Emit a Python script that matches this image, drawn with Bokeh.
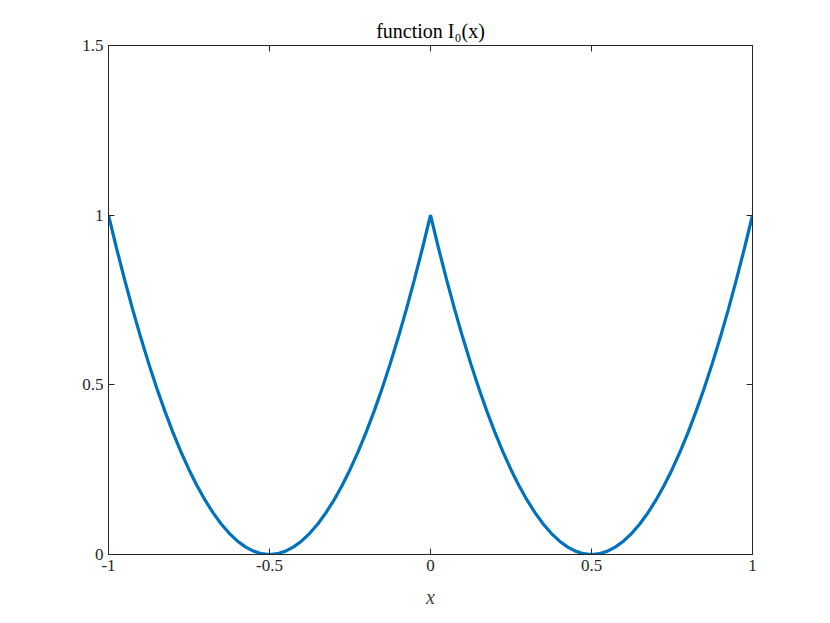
from bokeh.plotting import figure
from bokeh.models import LinearAxis, FixedTicker, Range1d
from bokeh.embed import file_html
from bokeh.resources import INLINE

x_vals = [-1.0, -0.975, -0.95, -0.925, -0.9, -0.875, -0.85, -0.825, -0.8, -0.775,
          -0.75, -0.725, -0.7, -0.675, -0.65, -0.625, -0.6, -0.575, -0.55, -0.525,
          -0.5, -0.475, -0.45, -0.425, -0.4, -0.375, -0.35, -0.325, -0.3, -0.275,
          -0.25, -0.225, -0.2, -0.175, -0.15, -0.125, -0.1, -0.075, -0.05, -0.025,
          0.0, 0.025, 0.05, 0.075, 0.1, 0.125, 0.15, 0.175, 0.2, 0.225,
          0.25, 0.275, 0.3, 0.325, 0.35, 0.375, 0.4, 0.425, 0.45, 0.475,
          0.5, 0.525, 0.55, 0.575, 0.6, 0.625, 0.65, 0.675, 0.7, 0.725,
          0.75, 0.775, 0.8, 0.825, 0.85, 0.875, 0.9, 0.925, 0.95, 0.975, 1.0]
i0_vals = [1.0, 0.9025, 0.81, 0.7225, 0.64, 0.5625, 0.49, 0.4225, 0.36, 0.3025,
           0.25, 0.2025, 0.16, 0.1225, 0.09, 0.0625, 0.04, 0.0225, 0.01, 0.0025,
           0.0, 0.0025, 0.01, 0.0225, 0.04, 0.0625, 0.09, 0.1225, 0.16, 0.2025,
           0.25, 0.3025, 0.36, 0.4225, 0.49, 0.5625, 0.64, 0.7225, 0.81, 0.9025,
           1.0, 0.9025, 0.81, 0.7225, 0.64, 0.5625, 0.49, 0.4225, 0.36, 0.3025,
           0.25, 0.2025, 0.16, 0.1225, 0.09, 0.0625, 0.04, 0.0225, 0.01, 0.0025,
           0.0, 0.0025, 0.01, 0.0225, 0.04, 0.0625, 0.09, 0.1225, 0.16, 0.2025,
           0.25, 0.3025, 0.36, 0.4225, 0.49, 0.5625, 0.64, 0.7225, 0.81, 0.9025, 1.0]
x_ticks = [-1, -0.5, 0, 0.5, 1]
x_tick_labels = ["-1", "-0.5", "0", "0.5", "1"]
y_ticks = [0, 0.5, 1, 1.5]
y_tick_labels = ["0", "0.5", "1", "1.5"]

FONT = "Liberation Serif"

p = figure(width=816, height=615, output_backend="svg", toolbar_location=None,
           x_range=Range1d(-1, 1), y_range=Range1d(0, 1.5),
           min_border_left=108, min_border_right=64, min_border_top=45,
           min_border_bottom=61)
p.title.text = "function I\u2080(x)"
p.title.align = "center"
p.title.text_font = FONT
p.title.text_font_style = "normal"
p.title.text_font_size = "20px"
p.title.text_color = "#000000"
p.title.standoff = 8

p.line(x_vals, i0_vals, line_color="#0072BD", line_width=3.2)

p.grid.visible = False
p.outline_line_color = "#262626"
p.outline_line_width = 1
p.background_fill_color = "white"
p.border_fill_color = "white"

def style(ax):
    ax.major_tick_in = 6
    ax.major_tick_out = 0
    ax.minor_tick_line_color = None
    ax.axis_line_color = "#262626"
    ax.major_tick_line_color = "#262626"
    ax.major_label_text_font = FONT
    ax.major_label_text_font_size = "17px"
    ax.major_label_text_color = "#262626"

xa = p.xaxis[0]
xa.ticker = FixedTicker(ticks=x_ticks)
xa.major_label_overrides = {t: l for t, l in zip(x_ticks, x_tick_labels)}
xa.axis_label = "x"
xa.axis_label_text_font = FONT
xa.axis_label_text_font_style = "italic"
xa.axis_label_text_font_size = "20px"
xa.axis_label_standoff = 12
style(xa)

ya = p.yaxis[0]
ya.ticker = FixedTicker(ticks=y_ticks)
ya.major_label_overrides = {t: l for t, l in zip(y_ticks, y_tick_labels)}
style(ya)

top = LinearAxis(ticker=FixedTicker(ticks=x_ticks))
style(top)
top.major_label_overrides = {t: "" for t in x_ticks}
p.add_layout(top, "above")
right = LinearAxis(ticker=FixedTicker(ticks=y_ticks))
style(right)
right.major_label_overrides = {t: "" for t in y_ticks}
p.add_layout(right, "right")

open("out.html", "w").write(file_html(p, INLINE))
